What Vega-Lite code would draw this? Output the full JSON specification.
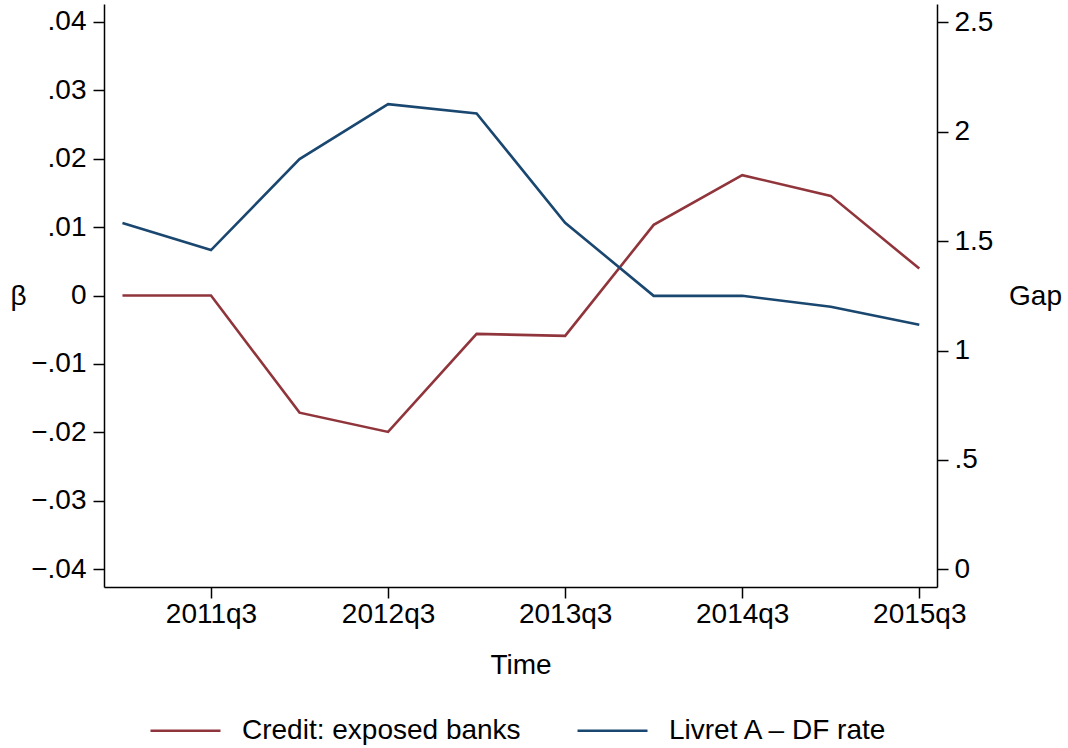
{
  "$schema": "https://vega.github.io/schema/vega-lite/v6.json",
  "width": 833,
  "height": 583,
  "autosize": {"type": "none"},
  "padding": {"left": 104, "top": 4, "right": 131, "bottom": 161},
  "background": "white",
  "config": {
    "view": {"stroke": null},
    "font": "Liberation Sans",
    "axis": {
      "grid": false,
      "domainColor": "#000000",
      "tickColor": "#000000",
      "labelColor": "#000000",
      "titleColor": "#000000",
      "labelFontSize": 28,
      "titleFontSize": 28,
      "titleFontWeight": "normal",
      "domainWidth": 1.5,
      "tickWidth": 1.5,
      "tickSize": 11
    },
    "legend": {
      "orient": "none",
      "legendX": 45,
      "legendY": 690,
      "direction": "horizontal",
      "symbolType": "stroke",
      "symbolSize": 4900,
      "symbolStrokeWidth": 2.6,
      "labelFontSize": 28,
      "labelColor": "#000000",
      "labelLimit": 0,
      "labelOffset": 20,
      "columnPadding": 51,
      "title": null
    }
  },
  "data": {
    "values": [
      {"t": 204, "quarter": "2011q1", "credit": 0.0, "gap": 1.583},
      {"t": 206, "quarter": "2011q3", "credit": 0.0, "gap": 1.459},
      {"t": 208, "quarter": "2012q1", "credit": -0.01712, "gap": 1.875},
      {"t": 210, "quarter": "2012q3", "credit": -0.01994, "gap": 2.126},
      {"t": 212, "quarter": "2013q1", "credit": -0.00561, "gap": 2.084},
      {"t": 214, "quarter": "2013q3", "credit": -0.0059, "gap": 1.584},
      {"t": 216, "quarter": "2014q1", "credit": 0.01032, "gap": 1.25},
      {"t": 218, "quarter": "2014q3", "credit": 0.01759, "gap": 1.25},
      {"t": 220, "quarter": "2015q1", "credit": 0.01456, "gap": 1.2},
      {"t": 222, "quarter": "2015q3", "credit": 0.00393, "gap": 1.118}
    ]
  },
  "encoding": {
    "x": {
      "field": "t",
      "type": "quantitative",
      "scale": {"domain": [203.583, 222.4], "nice": false, "zero": false},
      "axis": {
        "title": "Time",
        "values": [206, 210, 214, 218, 222],
        "labelExpr": "floor(datum.value/4)+1960 + 'q' + (datum.value%4+1)",
        "labelPadding": 2,
        "titleY": 78,
        "titleBaseline": "middle"
      }
    }
  },
  "layer": [
    {
      "mark": {"type": "line", "strokeWidth": 2.6},
      "encoding": {
        "y": {
          "field": "credit",
          "type": "quantitative",
          "scale": {"domain": [-0.0426, 0.0426], "nice": false, "zero": false},
          "axis": {
            "orient": "left",
            "title": "β",
            "values": [-0.04, -0.03, -0.02, -0.01, 0, 0.01, 0.02, 0.03, 0.04],
            "labelExpr": "datum.value == 0 ? '0' : replace(format(datum.value, '.2f'), '0.', '.')",
            "labelPadding": 7,
            "titleAngle": 0,
            "titleX": -86,
            "titleY": 292,
            "titleAlign": "center",
            "titleBaseline": "middle"
          }
        },
        "color": {
          "datum": "Credit: exposed banks",
          "type": "nominal",
          "scale": {
            "domain": ["Credit: exposed banks", "Livret A – DF rate"],
            "range": ["#90353B", "#1A476F"]
          }
        }
      }
    },
    {
      "mark": {"type": "line", "strokeWidth": 2.6},
      "encoding": {
        "y": {
          "field": "gap",
          "type": "quantitative",
          "scale": {"domain": [-0.081, 2.584], "nice": false, "zero": false},
          "axis": {
            "orient": "right",
            "title": "Gap",
            "values": [0, 0.5, 1, 1.5, 2, 2.5],
            "labelExpr": "datum.value == 0.5 ? '.5' : format(datum.value, '~g')",
            "labelPadding": 6,
            "titleAngle": 0,
            "titleX": 98,
            "titleY": 292,
            "titleAlign": "center",
            "titleBaseline": "middle"
          }
        },
        "color": {"datum": "Livret A – DF rate", "type": "nominal"}
      }
    }
  ],
  "resolve": {"scale": {"y": "independent"}}
}
